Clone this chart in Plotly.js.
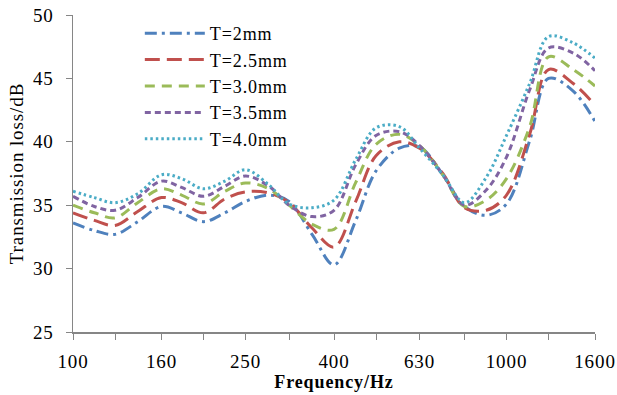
<!DOCTYPE html>
<html>
<head>
<meta charset="utf-8">
<script src="https://cdn.plot.ly/plotly-3.0.1.min.js"></script>
<style>html,body{margin:0;padding:0;background:#fff;}#chart{width:617px;height:395px;}#chart text{letter-spacing:0.9px;}</style>
</head>
<body>
<div id="chart"></div>
<script>
// Frequencies (Hz) at which the curves were read
const freqs = [100,112,125,141,160,178,200,224,250,283,315,356,400,449,500,566,630,713,800,898,1000,1131,1250,1425,1600];
const seriesNames = ['T=2mm','T=2.5mm','T=3.0mm','T=3.5mm','T=4.0mm'];
const t20 = [33.6,33.0,32.7,33.7,34.9,34.4,33.7,34.4,35.3,35.8,35.3,32.7,30.3,33.8,37.7,39.5,39.6,37.4,34.9,34.2,35.1,40.1,45.0,44.0,41.6];
const t25 = [34.4,33.8,33.4,34.5,35.6,35.2,34.4,35.5,36.05,35.96,35.2,33.2,31.7,35.3,38.9,40.0,39.5,37.5,34.8,34.6,35.8,40.6,45.7,44.6,42.9];
const t30 = [35.0,34.4,34.0,35.2,36.3,35.8,35.1,36.1,36.75,36.3,35.0,33.5,33.1,36.8,39.8,40.6,39.7,37.4,34.9,35.4,37.1,41.2,46.7,45.7,44.4];
const t35 = [35.7,34.9,34.6,35.6,36.9,36.4,35.7,36.5,37.3,36.5,35.0,34.1,34.6,38.2,40.5,40.8,39.7,37.4,35.0,36.2,38.8,44.1,47.4,47.0,45.6];
const t40 = [36.1,35.6,35.2,35.9,37.4,37.1,36.3,36.9,37.8,36.6,35.1,34.8,35.4,38.6,41.1,41.2,39.5,37.4,35.2,37.2,40.5,44.6,48.3,47.8,46.6];
const tickFreqs = [100,125,160,200,250,315,400,500,630,800,1000,1250,1600];
const tickLabels = ['100','','160','','250','','400','','630','','1000','','1600'];
const yTicks = [25,30,35,40,45,50];

const colors = ['#4F81BD','#C0504D','#9BBB59','#8064A2','#4BACC6'];
const dashes = ['12px,5px,3px,5px','15px,7px','10px,7px','6px,4px','2.5px,3px'];
const values = [t20,t25,t30,t35,t40];

const traces = values.map((v,i)=>({
  x: freqs, y: v, name: seriesNames[i], type:'scatter', mode:'lines',
  line:{color:colors[i], width:3, dash:dashes[i], shape:'spline', smoothing:1}
}));

const font = 'Liberation Serif, Times New Roman, serif';
const layout = {
  width:617, height:395,
  margin:{l:73, r:22, t:15, b:63},
  paper_bgcolor:'#fff', plot_bgcolor:'#fff',
  font:{family:font, size:19, color:'#000'},
  showlegend:true,
  legend:{x:0.128, y:1.0, xanchor:'left', yanchor:'top', bgcolor:'rgba(0,0,0,0)',
          font:{family:font, size:18, color:'#000'}, itemwidth:60, tracegroupgap:0},
  xaxis:{type:'log', range:[Math.log10(100), Math.log10(1600)], tickmode:'array',
         tickvals:tickFreqs, ticktext:tickLabels, ticks:'outside', ticklen:6, tickcolor:'#868686',
         showline:true, linecolor:'#868686', linewidth:1.5, showgrid:false, zeroline:false,
         ticklabelstandoff:6,
         tickfont:{family:font, size:19, color:'#000'},
         title:{text:'<b>Frequency/Hz</b>', font:{family:font, size:18, color:'#000'}, standoff:2}},
  yaxis:{range:[25,50], tickmode:'array', tickvals:yTicks, ticks:'outside', ticklen:6, tickcolor:'#868686',
         showline:true, linecolor:'#868686', linewidth:1.5, showgrid:false, zeroline:false,
         ticklabelstandoff:8,
         tickfont:{family:font, size:19, color:'#000'},
         title:{text:'Transmission loss/dB', font:{family:font, size:19, color:'#000'}, standoff:6}}
};
Plotly.newPlot('chart', traces, layout, {displayModeBar:false, staticPlot:true});
</script>
</body>
</html>
